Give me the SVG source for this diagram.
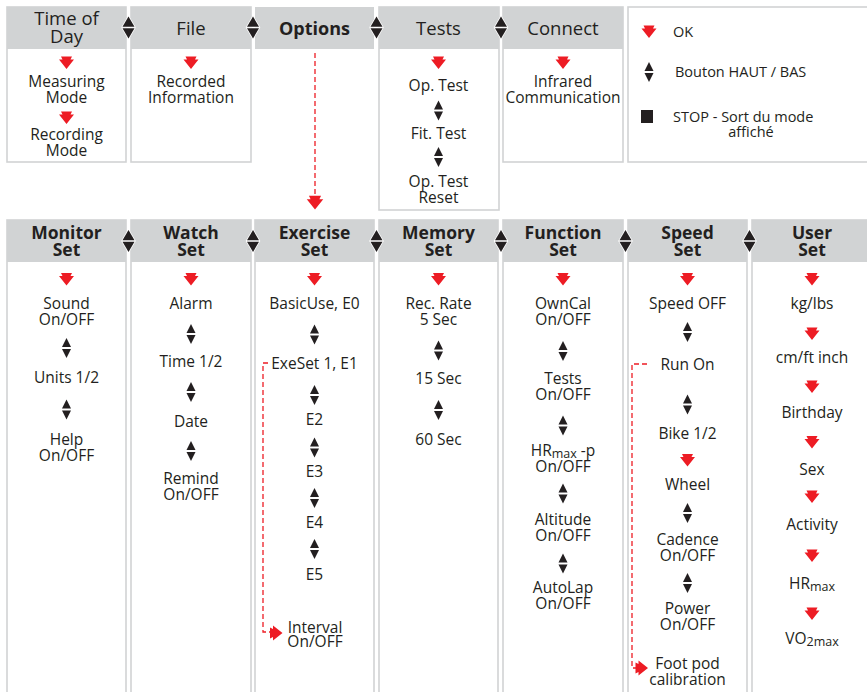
<svg xmlns="http://www.w3.org/2000/svg" width="867" height="692" viewBox="0 0 867 692">
<style>
.bg{fill:#ffffff}
.body{fill:#ffffff;stroke:#d1d3d4;stroke-width:1.6}
.hdr{fill:#d1d3d4}
text{font-family:"Open Sans","Noto Sans","Liberation Sans",sans-serif;fill:#231f20;text-anchor:middle}
.h{font-size:18.5px}
.hb{font-size:18px;font-weight:bold}
.hb2{font-size:17.5px;font-weight:bold}
.t{font-size:15.5px}
.lg{font-size:14.5px;text-anchor:start}
.sub{font-size:12.5px}
.dash{fill:none;stroke:#ed1c24;stroke-width:1.3;stroke-dasharray:5 3}
</style>
<defs>
<polygon id="ok" points="-5.5,-6.5 5.5,-6.5 4,-3.5 7.5,-3.5 0,6 -7.5,-3.5 -4,-3.5" fill="#ed1c24"/>
<g id="ud" fill="#231f20"><polygon points="0,-10 4.5,-1 -4.5,-1"/><polygon points="-4.5,1 4.5,1 0,10"/></g>
<g id="hud" fill="#231f20" stroke="#ffffff" stroke-width="1.5" paint-order="stroke"><polygon points="0,-11 6,-0.8 -6,-0.8"/><polygon points="-6,0.8 6,0.8 0,11"/></g>
</defs>
<rect class="bg" x="0" y="0" width="867" height="692"/>

<!-- Top row -->
<g id="timeofday">
<rect class="body" x="7" y="7" width="119" height="155"/>
<rect class="hdr" x="7" y="7" width="119" height="42"/>
<text class="h" x="66.5" y="25">Time of<tspan x="66.5" dy="17.5">Day</tspan></text>
<use href="#ok" x="66.5" y="63"/>
<text class="t" x="66.5" y="87">Measuring<tspan x="66.5" dy="16">Mode</tspan></text>
<use href="#ok" x="66.5" y="118"/>
<text class="t" x="66.5" y="140">Recording<tspan x="66.5" dy="16">Mode</tspan></text>
</g>
<g id="file">
<rect class="body" x="131" y="7" width="120" height="155"/>
<rect class="hdr" x="131" y="7" width="120" height="42"/>
<text class="h" x="191" y="35">File</text>
<use href="#ok" x="191" y="63"/>
<text class="t" x="191" y="87">Recorded<tspan x="191" dy="16">Information</tspan></text>
</g>
<g id="options">
<rect class="hdr" x="255" y="7" width="119" height="42"/>
<text class="hb" x="314.5" y="35">Options</text>
</g>
<g id="tests">
<rect class="body" x="379" y="7" width="120" height="203"/>
<rect class="hdr" x="379" y="7" width="120" height="42"/>
<text class="h" x="438.5" y="35">Tests</text>
<use href="#ok" x="438.5" y="63"/>
<text class="t" x="438.5" y="91">Op. Test</text>
<use href="#ud" x="438.5" y="110.5"/>
<text class="t" x="438.5" y="139">Fit. Test</text>
<use href="#ud" x="438.5" y="157"/>
<text class="t" x="438.5" y="187">Op. Test<tspan x="438.5" dy="15.5">Reset</tspan></text>
</g>
<g id="connect">
<rect class="body" x="503" y="7" width="120" height="155"/>
<rect class="hdr" x="503" y="7" width="120" height="42"/>
<text class="h" x="563" y="35">Connect</text>
<use href="#ok" x="563" y="63"/>
<text class="t" x="563" y="87">Infrared<tspan x="563" dy="16">Communication</tspan></text>
</g>
<g id="legend">
<rect class="body" x="628" y="7" width="250" height="155"/>
<use href="#ok" x="649" y="32"/>
<text class="lg" x="673" y="37">OK</text>
<use href="#ud" x="649" y="72"/>
<text class="lg" x="675" y="77">Bouton HAUT / BAS</text>
<rect x="641" y="110" width="12" height="13" fill="#231f20"/>
<text class="lg" x="673" y="122">STOP - Sort du mode<tspan x="751" dy="15" style="text-anchor:middle">affiché</tspan></text>
</g>

<!-- Bottom row -->
<g id="monitorset">
<rect class="body" x="7" y="220" width="119" height="490"/>
<rect class="hdr" x="7" y="220" width="119" height="42"/>
<text class="hb2" x="66.5" y="238.5">Monitor<tspan x="66.5" dy="17.5">Set</tspan></text>
<use href="#ok" x="66.5" y="279.5"/>
<text class="t" x="66.5" y="309">Sound<tspan x="66.5" dy="15.5">On/OFF</tspan></text>
<use href="#ud" x="66.5" y="348"/>
<text class="t" x="66.5" y="383">Units 1/2</text>
<use href="#ud" x="66.5" y="409.5"/>
<text class="t" x="66.5" y="445">Help<tspan x="66.5" dy="16">On/OFF</tspan></text>
</g>
<g id="watchset">
<rect class="body" x="131" y="220" width="120" height="490"/>
<rect class="hdr" x="131" y="220" width="120" height="42"/>
<text class="hb2" x="191" y="238.5">Watch<tspan x="191" dy="17.5">Set</tspan></text>
<use href="#ok" x="191" y="279.5"/>
<text class="t" x="191" y="309">Alarm</text>
<use href="#ud" x="191" y="334"/>
<text class="t" x="191" y="367">Time 1/2</text>
<use href="#ud" x="191" y="392"/>
<text class="t" x="191" y="427">Date</text>
<use href="#ud" x="191" y="451"/>
<text class="t" x="191" y="484">Remind<tspan x="191" dy="16">On/OFF</tspan></text>
</g>
<g id="exerciseset">
<rect class="body" x="255" y="220" width="119" height="490"/>
<rect class="hdr" x="255" y="220" width="119" height="42"/>
<text class="hb2" x="314.5" y="238.5">Exercise<tspan x="314.5" dy="17.5">Set</tspan></text>
<use href="#ok" x="314.5" y="279.5"/>
<text class="t" x="314.5" y="309">BasicUse, E0</text>
<use href="#ud" x="314.5" y="334.5"/>
<text class="t" x="314.5" y="369">ExeSet 1, E1</text>
<use href="#ud" x="314.5" y="395"/>
<text class="t" x="314.5" y="425">E2</text>
<use href="#ud" x="314.5" y="447.5"/>
<text class="t" x="314.5" y="477">E3</text>
<use href="#ud" x="314.5" y="498"/>
<text class="t" x="314.5" y="528">E4</text>
<use href="#ud" x="314.5" y="549"/>
<text class="t" x="314.5" y="580">E5</text>
<text class="t" x="315" y="632.5">Interval<tspan x="315" dy="14.5">On/OFF</tspan></text>
</g>
<g id="memoryset">
<rect class="body" x="379" y="220" width="119" height="490"/>
<rect class="hdr" x="379" y="220" width="119" height="42"/>
<text class="hb2" x="438.5" y="238.5">Memory<tspan x="438.5" dy="17.5">Set</tspan></text>
<use href="#ok" x="438.5" y="279.5"/>
<text class="t" x="438.5" y="309">Rec. Rate<tspan x="438.5" dy="16">5 Sec</tspan></text>
<use href="#ud" x="438.5" y="350.5"/>
<text class="t" x="438.5" y="384">15 Sec</text>
<use href="#ud" x="438.5" y="410"/>
<text class="t" x="438.5" y="445">60 Sec</text>
</g>
<g id="functionset">
<rect class="body" x="503" y="220" width="120" height="490"/>
<rect class="hdr" x="503" y="220" width="120" height="42"/>
<text class="hb2" x="563" y="238.5">Function<tspan x="563" dy="17.5">Set</tspan></text>
<use href="#ok" x="563" y="279.5"/>
<text class="t" x="563" y="309">OwnCal<tspan x="563" dy="16">On/OFF</tspan></text>
<use href="#ud" x="563" y="351"/>
<text class="t" x="563" y="384">Tests<tspan x="563" dy="16">On/OFF</tspan></text>
<use href="#ud" x="563" y="425.5"/>
<text class="t" x="563" y="456">HR<tspan class="sub" dy="1.5">max</tspan><tspan dy="-1.5"> -p</tspan><tspan x="563" dy="16">On/OFF</tspan></text>
<use href="#ud" x="563" y="493.5"/>
<text class="t" x="563" y="525">Altitude<tspan x="563" dy="16">On/OFF</tspan></text>
<use href="#ud" x="563" y="563.5"/>
<text class="t" x="563" y="593">AutoLap<tspan x="563" dy="16">On/OFF</tspan></text>
</g>
<g id="speedset">
<rect class="body" x="628" y="220" width="119" height="490"/>
<rect class="hdr" x="628" y="220" width="119" height="42"/>
<text class="hb2" x="687.5" y="238.5">Speed<tspan x="687.5" dy="17.5">Set</tspan></text>
<use href="#ok" x="687.5" y="279.5"/>
<text class="t" x="687.5" y="309">Speed OFF</text>
<use href="#ud" x="687.5" y="332"/>
<text class="t" x="687.5" y="370">Run On</text>
<use href="#ud" x="687.5" y="404.5"/>
<text class="t" x="687.5" y="439">Bike 1/2</text>
<use href="#ok" x="687.5" y="460.5"/>
<text class="t" x="687.5" y="490">Wheel</text>
<use href="#ud" x="687.5" y="513"/>
<text class="t" x="687.5" y="545">Cadence<tspan x="687.5" dy="16">On/OFF</tspan></text>
<use href="#ud" x="687.5" y="583"/>
<text class="t" x="687.5" y="614">Power<tspan x="687.5" dy="15.5">On/OFF</tspan></text>
<text class="t" x="687.5" y="669">Foot pod<tspan x="687.5" dy="16">calibration</tspan></text>
</g>
<g id="userset">
<rect class="body" x="752" y="220" width="126" height="490"/>
<rect class="hdr" x="752" y="220" width="126" height="42"/>
<text class="hb2" x="812" y="238.5">User<tspan x="812" dy="17.5">Set</tspan></text>
<use href="#ok" x="812" y="279.5"/>
<text class="t" x="812" y="309">kg/lbs</text>
<use href="#ok" x="812" y="334"/>
<text class="t" x="812" y="363">cm/ft inch</text>
<use href="#ok" x="812" y="387"/>
<text class="t" x="812" y="418">Birthday</text>
<use href="#ok" x="812" y="442.5"/>
<text class="t" x="812" y="475">Sex</text>
<use href="#ok" x="812" y="497"/>
<text class="t" x="812" y="530">Activity</text>
<use href="#ok" x="812" y="556"/>
<text class="t" x="812" y="589">HR<tspan class="sub" dy="1.5">max</tspan></text>
<use href="#ok" x="812" y="614"/>
<text class="t" x="812" y="644">VO<tspan class="sub" dy="1.5">2max</tspan></text>
</g>

<!-- Connectors -->
<g id="connectors">
<use href="#hud" x="128.5" y="27.5"/>
<use href="#hud" x="253" y="27.5"/>
<use href="#hud" x="376.5" y="27.5"/>
<use href="#hud" x="501" y="27.5"/>
<use href="#hud" x="128.5" y="241"/>
<use href="#hud" x="253" y="241"/>
<use href="#hud" x="376.5" y="241"/>
<use href="#hud" x="501" y="241"/>
<use href="#hud" x="625.5" y="241"/>
<use href="#hud" x="749.5" y="241"/>
<path class="dash" d="M315,53 V198"/>
<use href="#ok" transform="translate(315,203) scale(1.1)"/>
<path class="dash" d="M268,363 H263 V632 H270"/>
<use href="#ok" transform="translate(276.5,633) rotate(-90)"/>
<path class="dash" d="M647,364 H632 V668 H636"/>
<use href="#ok" transform="translate(642,668) rotate(-90)"/>
</g>
</svg>
